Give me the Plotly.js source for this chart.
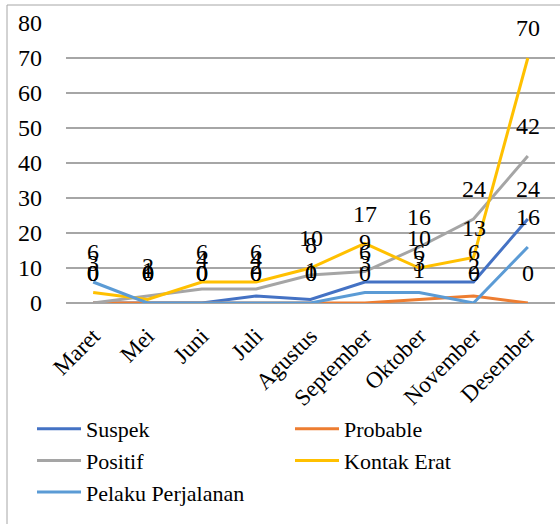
<!DOCTYPE html>
<html>
<head>
<meta charset="utf-8">
<script src="https://cdn.plot.ly/plotly-3.0.1.min.js"></script>
<style>
html,body{margin:0;padding:0;background:#fff;}
#chart{width:560px;height:524px;}
</style>
</head>
<body>
<div id="chart"></div>
<script>
const months = ["Maret","Mei","Juni","Juli","Agustus","September","Oktober","November","Desember"];
const suspek = [0,0,0,2,1,6,6,6,24];
const probable = [0,0,0,0,0,0,1,2,0];
const positif = [0,2,4,4,8,9,16,24,42];
const kontakErat = [3,1,6,6,10,17,10,13,70];
const pelakuPerjalanan = [6,0,0,0,0,3,3,0,16];
const seriesNames = ["Suspek","Probable","Positif","Kontak Erat","Pelaku Perjalanan"];
const seriesValues = [suspek, probable, positif, kontakErat, pelakuPerjalanan];
const seriesColors = ["#4472C4","#ED7D31","#A5A5A5","#FFC000","#5B9BD5"];

const FONT = 'Liberation Serif';
const traces = seriesNames.map((n,i)=>({
  type:'scatter', mode:'lines', name:n, x:months, y:seriesValues[i],
  line:{color:seriesColors[i], width:3}, hoverinfo:'skip'
}));

const annotations = [];
seriesValues.forEach((vals,i)=>{
  vals.forEach((v,j)=>{
    annotations.push({x:months[j], y:v, xref:'x', yref:'y', text:String(v),
      showarrow:false, yshift:30, font:{family:FONT, size:24, color:'#000'}});
  });
});

const L=66, R=5, T=23, B=221, W=560, H=524;
const pw=W-L-R, ph=H-T-B;
const px2x = p => (p-L)/pw;
const py2y = p => (H-B-p)/ph;

const layout = {
  width:W, height:H,
  margin:{l:L, r:R, t:T, b:B, pad:0},
  paper_bgcolor:'#fff', plot_bgcolor:'#fff',
  font:{family:FONT, color:'#000'},
  showlegend:true,
  xaxis:{type:'category', range:[-0.5,8.5], showgrid:false, zeroline:false,
    showline:false, ticks:'', tickangle:-45, tickfont:{family:FONT, size:23, color:'#000'},
    ticklabelstandoff:14, fixedrange:true},
  yaxis:{range:[0,80], dtick:10, showgrid:true, gridcolor:'#a6a6a6', gridwidth:1.3,
    zeroline:true, zerolinecolor:'#a6a6a6', zerolinewidth:1.3, showline:false, ticks:'',
    tickfont:{family:FONT, size:24, color:'#000'}, ticklabelstandoff:23, fixedrange:true},
  legend:{orientation:'h', x:px2x(32), xanchor:'left', y:py2y(408), yanchor:'top',
    font:{family:FONT, size:22, color:'#000'}, entrywidth:199, entrywidthmode:'pixels',
    itemwidth:44, bgcolor:'rgba(0,0,0,0)', traceorder:'normal'},
  annotations:annotations,
  shapes:[
    {type:'line', xref:'paper', yref:'paper', x0:px2x(7), x1:px2x(7), y0:py2y(600), y1:py2y(5),
     line:{color:'#a6a6a6', width:1}},
    {type:'line', xref:'paper', yref:'paper', x0:px2x(7), x1:px2x(620), y0:py2y(5), y1:py2y(5),
     line:{color:'#a6a6a6', width:1}}
  ]
};
Plotly.newPlot('chart', traces, layout, {displayModeBar:false, staticPlot:true});
</script>
</body>
</html>
